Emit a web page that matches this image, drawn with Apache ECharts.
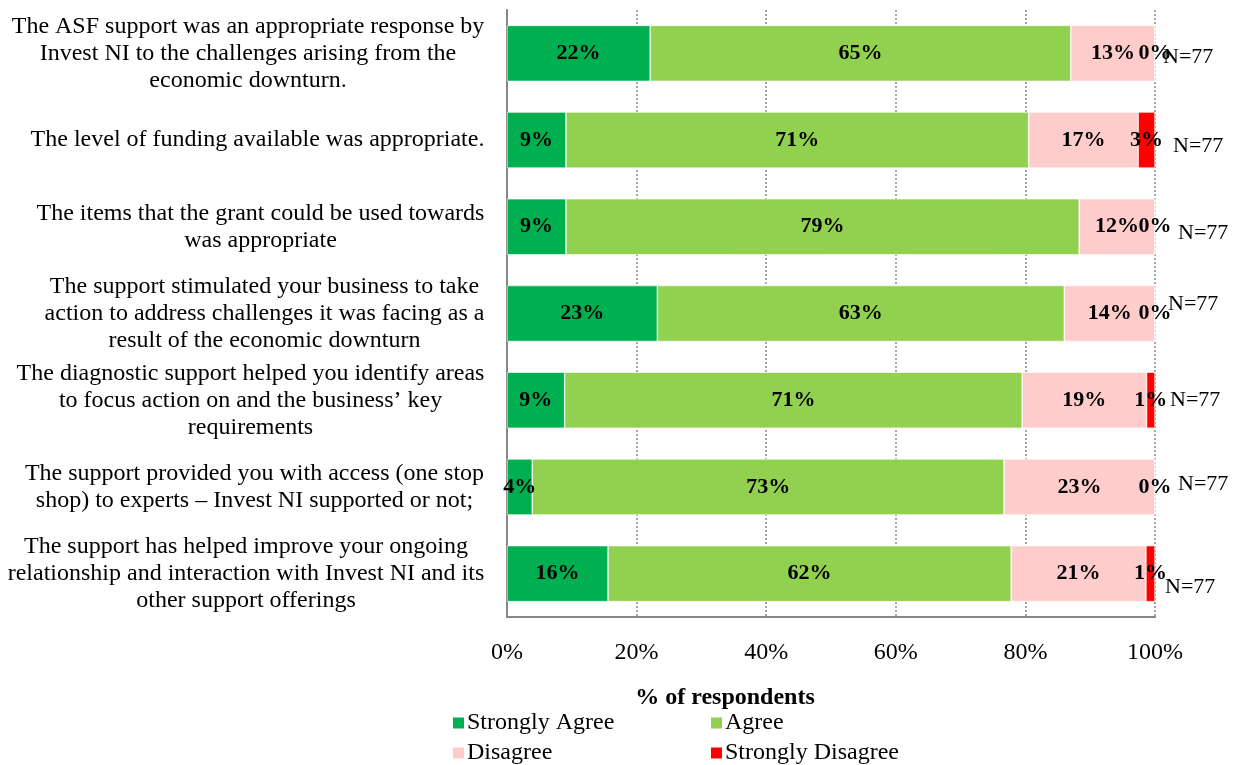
<!DOCTYPE html>
<html>
<head>
<meta charset="utf-8">
<script src="https://cdn.jsdelivr.net/npm/echarts@6/dist/echarts.min.js"></script>
<style>
  html, body { margin: 0; padding: 0; background: #ffffff; }
  #chart { width: 1238px; height: 765px; }
</style>
</head>
<body>
<div id="chart"></div>
<script>
// Survey statements (one bar each, top to bottom)
const statements = [
  'The ASF support was an appropriate response by\nInvest NI to the challenges arising from the\neconomic downturn.',
  'The level of funding available was appropriate.',
  'The items that the grant could be used towards\nwas appropriate',
  'The support stimulated your business to take\naction to address challenges it was facing as a\nresult of the economic downturn',
  'The diagnostic support helped you identify areas\nto focus action on and the business\u2019 key\nrequirements',
  'The support provided you with access (one stop\nshop) to experts \u2013 Invest NI supported or not;',
  'The support has helped improve your ongoing\nrelationship and interaction with Invest NI and its\nother support offerings'
];

// Share of respondents (%) per answer
const stronglyAgree    = [22.1,  9.1,  9.1, 23.2,  8.9,  3.9, 15.6];
const agree            = [64.9, 71.4, 79.2, 62.8, 70.6, 72.8, 62.2];
const disagree         = [13.0, 16.9, 11.7, 14.0, 19.2, 23.3, 20.8];
const stronglyDisagree = [ 0.0,  2.6,  0.0,  0.0,  1.3,  0.0,  1.4];

// Number of respondents per statement
const respondents = [77, 77, 77, 77, 77, 77, 77];

// Percentage axis ticks
const axisMin = 0;
const axisMax = 100;
const axisStep = 20;

// Where each "N=" note sits relative to the bar end
const noteOffsets = [[8, 4], [18, 6], [23, 6], [13, -9], [15, 0], [23, -3], [10, 14]];

const SERIF = '"Liberation Serif", "Times New Roman", serif';
const colors = {
  'Strongly Agree': '#00B050',
  'Agree': '#92D050',
  'Disagree': '#FFCCCC',
  'Strongly Disagree': '#FF0000'
};

// Measure each statement's widest line so the lines can be centred within their block
const measureCtx = document.createElement('canvas').getContext('2d');
measureCtx.font = '24px ' + SERIF;
const statementRich = {};
statements.forEach((s, i) => {
  const w = Math.max(...s.split('\n').map(l => measureCtx.measureText(l).width));
  statementRich['s' + i] = {
    width: Math.ceil(w) + 1,
    align: 'center',
    fontSize: 24,
    lineHeight: 27,
    fontFamily: SERIF,
    color: '#000'
  };
});

const barLabel = {
  show: true,
  position: 'inside',
  fontFamily: SERIF,
  fontWeight: 'bold',
  fontSize: 22,
  color: '#000',
  formatter: p => Math.round(p.value) + '%'
};

function answerSeries(name, values) {
  return {
    name: name,
    type: 'bar',
    stack: 'total',
    barWidth: 56,
    data: values,
    itemStyle: { color: colors[name], borderColor: '#ffffff', borderWidth: 0.6 },
    label: barLabel,
    emphasis: { disabled: true }
  };
}

function legendItem(name, left, top) {
  return {
    data: [name],
    left: left,
    top: top,
    padding: 0,
    icon: 'rect',
    itemWidth: 13,
    itemHeight: 13,
    itemGap: 0,
    selectedMode: false,
    textStyle: { fontFamily: SERIF, fontSize: 24, color: '#000', padding: [0, 0, 0, -3] }
  };
}

const chart = echarts.init(document.getElementById('chart'), null, { renderer: 'canvas' });

chart.setOption({
  animation: false,
  backgroundColor: '#ffffff',
  grid: { left: 507, right: 83, top: 10, bottom: 148, containLabel: false },
  xAxis: {
    type: 'value',
    min: axisMin,
    max: axisMax,
    interval: axisStep,
    axisLine: { show: true, lineStyle: { color: '#868686', width: 2 } },
    axisTick: { show: false },
    axisLabel: {
      margin: 24,
      fontFamily: SERIF,
      fontSize: 24,
      color: '#000',
      formatter: '{value}%'
    },
    splitLine: { show: true, lineStyle: { color: '#8c8c8c', type: [2, 2], width: 1.5 } }
  },
  yAxis: {
    type: 'category',
    inverse: true,
    data: statements,
    axisLine: { show: true, lineStyle: { color: '#868686', width: 2 } },
    axisTick: { show: false },
    axisLabel: {
      margin: 22,
      align: 'right',
      interval: 0,
      formatter: (value, idx) => value.split('\n').map(l => '{s' + idx + '|' + l + '}').join('\n'),
      rich: statementRich
    }
  },
  legend: [
    legendItem('Strongly Agree', 451, 711),
    legendItem('Agree', 709, 711),
    legendItem('Disagree', 451, 741),
    legendItem('Strongly Disagree', 709, 741)
  ],
  graphic: [{
    type: 'text',
    x: 725,
    y: 698,
    style: {
      text: '% of respondents',
      fontFamily: SERIF,
      fontWeight: 'bold',
      fontSize: 24,
      fill: '#000',
      textAlign: 'center',
      textVerticalAlign: 'middle'
    }
  }],
  series: [
    answerSeries('Strongly Agree', stronglyAgree),
    answerSeries('Agree', agree),
    answerSeries('Disagree', disagree),
    answerSeries('Strongly Disagree', stronglyDisagree),
    {
      name: 'N',
      type: 'bar',
      stack: 'total',
      barWidth: 56,
      silent: true,
      itemStyle: { color: 'transparent' },
      data: respondents.map((n, i) => ({ value: 0, label: { offset: noteOffsets[i] } })),
      label: {
        show: true,
        position: 'right',
        distance: 0,
        fontFamily: SERIF,
        fontSize: 22,
        color: '#000',
        formatter: p => 'N=' + respondents[p.dataIndex]
      }
    }
  ]
});
</script>
</body>
</html>
